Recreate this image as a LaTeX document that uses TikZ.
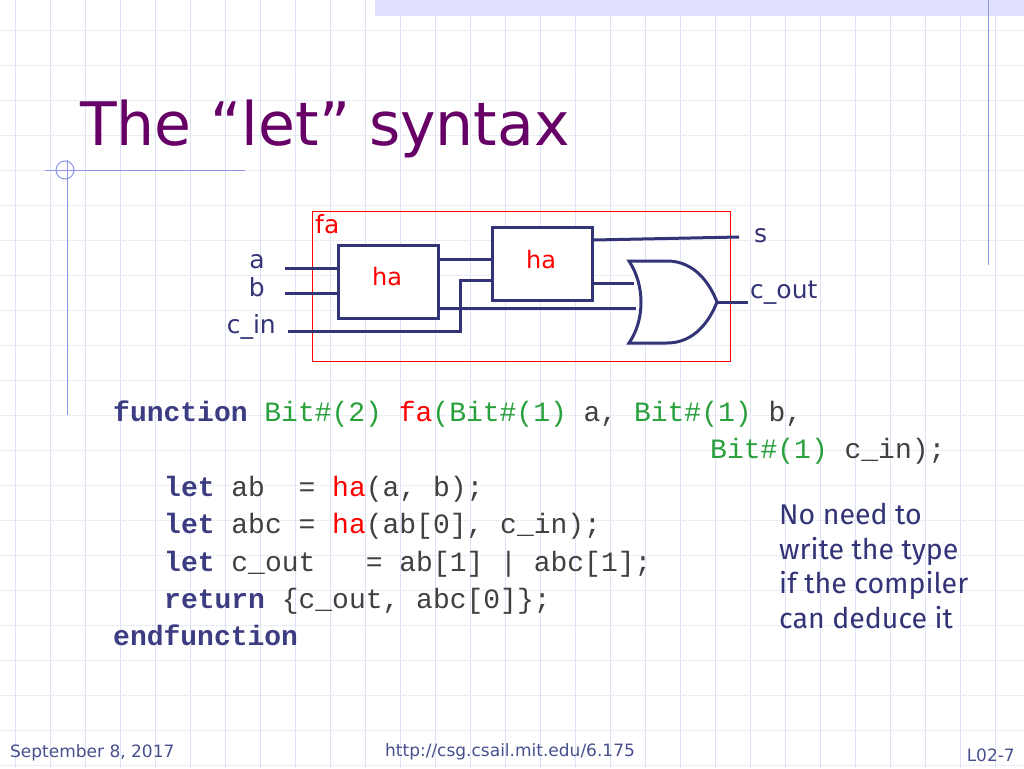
\documentclass[tikz,border=0pt]{standalone}
\usepackage{fontspec}
\setmainfont{DejaVu Sans}
\newfontfamily\codef{Liberation Mono}
\newfontfamily\notef{Fira Sans}
\definecolor{ttl}{RGB}{102,0,102}
\definecolor{navy}{RGB}{51,51,120}
\definecolor{kw}{RGB}{60,60,130}
\definecolor{grn}{RGB}{40,160,60}
\definecolor{gridc}{RGB}{222,226,245}
\definecolor{deco}{RGB}{140,150,230}
\definecolor{foot}{RGB}{70,80,140}
\tikzset{wire/.style={draw=navy,line width=3pt},
 hbox/.style={draw=navy,line width=3pt,fill=white},
 lbl/.style={font=\fontsize{25}{27}\selectfont,text=navy,inner sep=0},
 code/.style={font=\codef\fontsize{28}{30}\selectfont,text=black!75,anchor=base west,inner sep=0},
 foottxt/.style={font=\fontsize{17}{19}\selectfont,text=foot,inner sep=0}}
\begin{document}
\begin{tikzpicture}[x=1pt,y=-1pt]
\useasboundingbox (0,0) rectangle (1024,768);
\fill[white] (0,0) rectangle (1024,768);
\foreach \x in {15,50,...,1024} \draw[gridc,line width=0.6pt] (\x,0) -- (\x,768);
\foreach \y in {30,65,...,768} \draw[gridc,line width=0.6pt,densely dotted] (0,\y) -- (1024,\y);
\fill[blue!12] (375,0) rectangle (1024,16);
\draw[deco,line width=1pt] (988,0) -- (988,265);
\draw[deco,line width=1pt] (67,160) -- (67,415);
\draw[deco,line width=1pt] (45,170) -- (245,170);
\draw[deco,line width=1pt] (65,170) ellipse (9 and 9);
\node[anchor=base west,text=ttl,font=\fontsize{60}{66}\selectfont,inner sep=0] (title) at (80,145) {The “let” syntax};
% circuit
\node[draw=red,line width=0.8pt,minimum width=418pt,minimum height=150pt,anchor=north west,inner sep=0] (fa) at (312,211) {};
\node[anchor=north west,text=red,font=\fontsize{25}{27}\selectfont,inner sep=0] (falbl) at (315,214) {fa};
\node[hbox,minimum width=100pt,minimum height=73pt,anchor=north west,inner sep=0] (ha1) at (337,244) {};
\node[text=red,font=\fontsize{24}{26}\selectfont] at (387,277) {ha};
\node[hbox,minimum width=100pt,minimum height=73pt,anchor=north west,inner sep=0] (ha2) at (491,226) {};
\node[text=red,font=\fontsize{24}{26}\selectfont] at (541,260) {ha};
\coordinate (ia) at (285,268); \coordinate (ib) at (285,293); \coordinate (ic) at (288,331);
\node[lbl,anchor=east] (la) at (265,262) {a};
\node[lbl,anchor=east] (lb) at (265,287) {b};
\node[lbl,anchor=east] (lc) at (276,327) {c\_in};
\draw[wire] (ia) -- (ha1.west |- ia);
\draw[wire] (ib) -- (ha1.west |- ib);
\draw[wire] (ic) -- (460,331) -- (460,280) -- (ha2.west |- 0,280);
\draw[wire] (ha1.east |- 0,259) -- (ha2.west |- 0,259);
\draw[wire] (ha1.east |- 0,308) -- (636,308);
\draw[wire] (ha2.east |- 0,283) -- (634,283);
\coordinate (so) at (739,237);
\draw[wire] (ha2.east |- 0,240) -- (so);
\node[lbl,anchor=west] (ls) at (754,236) {s};
% OR gate
\draw[wire,fill=white] (629,261) .. controls (645,285) and (645,320) .. (629,343)
  -- (667,343) .. controls (695,343) and (710,320) .. (717,302)
  .. controls (710,284) and (695,261) .. (667,261) -- cycle;
\coordinate (oro) at (717,302); \coordinate (co) at (748,302);
\draw[wire] (oro) -- (co);
\node[lbl,anchor=west] (lco) at (750,293) {c\_out};
% code
\node[code] (c1) at (113,421) {\textcolor{kw}{\bfseries function} \textcolor{grn}{Bit\#(2)} \textcolor{red}{fa}\textcolor{grn}{(Bit\#(1)} a, \textcolor{grn}{Bit\#(1)} b,};
\node[code] (c2) at (710,458) {\textcolor{grn}{Bit\#(1)} c\_in);};
\node[code] (c3) at (164,496) {\textcolor{kw}{\bfseries let} ab~~= \textcolor{red}{ha}(a, b);};
\node[code] (c4) at (164,533) {\textcolor{kw}{\bfseries let} abc = \textcolor{red}{ha}(ab[0], c\_in);};
\node[code] (c5) at (164,571) {\textcolor{kw}{\bfseries let} c\_out~~~= ab[1] | abc[1];};
\node[code] (c6) at (164,608) {\textcolor{kw}{\bfseries return} \{c\_out, abc[0]\};};
\node[code] (c7) at (113,645) {\textcolor{kw}{\bfseries endfunction}};
\node[anchor=north west,align=left,text=navy,font=\notef\fontsize{28.5}{34.5}\selectfont,inner sep=0] (note) at (779,503) {No need to\\write the type\\if the compiler\\can deduce it};
% footer
\node[foottxt,anchor=west] (f1) at (10,753) {September 8, 2017};
\node[foottxt] (f2) at (510,752) {http://csg.csail.mit.edu/6.175};
\node[foottxt,anchor=east] (f3) at (1015,755) {L02-7};
\end{tikzpicture}
\end{document}
